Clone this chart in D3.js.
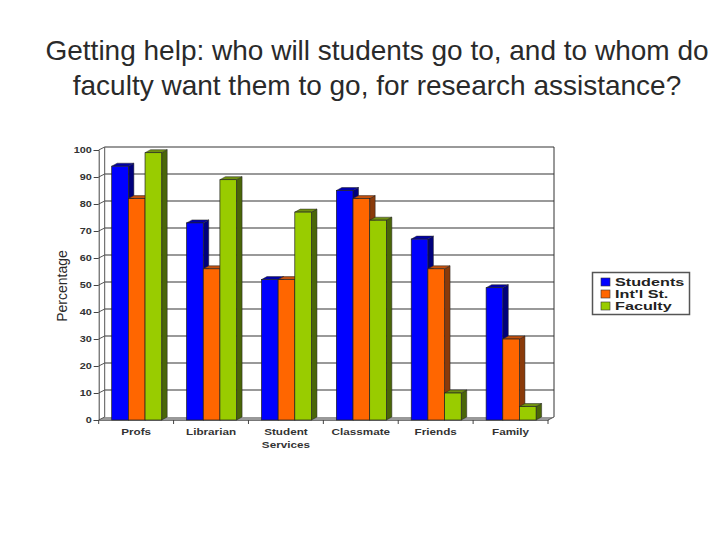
<!DOCTYPE html>
<html>
<head>
<meta charset="utf-8">
<script src="https://cdn.jsdelivr.net/npm/d3@7"></script>
<style>
  html, body { margin: 0; padding: 0; background: #fff; }
  svg { display: block; }
  text { font-family: "Liberation Sans", Arial, sans-serif; }
</style>
</head>
<body>
<div id="chart"></div>
<script>
const categories = ['Profs', 'Librarian', 'Student Services', 'Classmate', 'Friends', 'Family'];
const seriesNames = ['Students', "Int'l St.", 'Faculty'];
const students = [94, 73, 52, 85, 67, 49];
const intlStudents = [82, 56, 52, 82, 56, 30];
const faculty = [99, 89, 77, 74, 10, 5];
const yTicks = [0, 10, 20, 30, 40, 50, 60, 70, 80, 90, 100];
const titleLines = ['Getting help: who will students go to, and to whom do', 'faculty want them to go, for research assistance?'];

const seriesValues = [students, intlStudents, faculty];
const frontColors = ['#0000ff', '#ff6600', '#99cc00'];
const sideColors = ['#00007c', '#8a3a0a', '#4a6608'];
const topColors = ['#0000a8', '#c4500e', '#6f9010'];

const width = 720, height = 540;
const depthX = 6, depthY = 3;
const barDepthX = 5.5;

const svg = d3.select('#chart').append('svg')
  .attr('width', width)
  .attr('height', height);

// Titulo
svg.append('g').selectAll('text')
  .data(titleLines)
  .enter()
  .append('text')
  .attr('x', 377)
  .attr('y', (d, i) => 60 + i * 35)
  .attr('text-anchor', 'middle')
  .attr('font-size', 28)
  .attr('fill', '#2a2a2a')
  .text(d => d);

const x = d3.scaleBand()
  .domain(categories)
  .range([98.7, 548]);

const x1 = d3.scaleBand()
  .domain(d3.range(seriesNames.length))
  .range([13, 63]);

const y = d3.scaleLinear()
  .domain([0, 100])
  .range([420, 150]);

const xLeft = x.range()[0], xRight = x.range()[1];

// Pared del fondo y suelo
svg.append('polygon')
  .attr('points', [[xLeft, y(0)], [xLeft + depthX, y(0) - depthY], [xRight + depthX, y(0) - depthY], [xRight, y(0)]].join(' '))
  .attr('fill', '#999');

svg.append('g').selectAll('line')
  .data(yTicks.slice(1))
  .enter()
  .append('line')
  .attr('x1', xLeft + depthX)
  .attr('x2', xRight + depthX)
  .attr('y1', d => y(d) - depthY)
  .attr('y2', d => y(d) - depthY)
  .attr('stroke', '#777')
  .attr('stroke-width', 1.3);

svg.append('g').selectAll('line')
  .data(yTicks)
  .enter()
  .append('line')
  .attr('x1', xLeft)
  .attr('x2', xLeft + depthX)
  .attr('y1', d => y(d))
  .attr('y2', d => y(d) - depthY)
  .attr('stroke', '#555');

svg.append('line')
  .attr('x1', xLeft + depthX).attr('x2', xLeft + depthX)
  .attr('y1', y(0) - depthY).attr('y2', y(100) - depthY)
  .attr('stroke', '#555');

svg.append('line')
  .attr('x1', xRight + depthX).attr('x2', xRight + depthX)
  .attr('y1', y(0) - depthY).attr('y2', y(100) - depthY)
  .attr('stroke', '#333');

svg.append('line')
  .attr('x1', xRight).attr('x2', xRight + depthX)
  .attr('y1', y(0)).attr('y2', y(0) - depthY)
  .attr('stroke', '#555');

// Ejes
const yAxis = svg.append('g')
  .attr('transform', `translate(${xLeft},0)`)
  .call(d3.axisLeft(y).tickValues(yTicks).tickSize(5).tickPadding(2));
yAxis.select('.domain').attr('stroke', '#444');
yAxis.selectAll('.tick line').attr('stroke', '#444');
yAxis.selectAll('.tick text')
  .attr('x', -5)
  .attr('font-size', 8.5)
  .attr('font-family', '"Liberation Sans", sans-serif')
  .attr('font-weight', 'bold')
  .attr('fill', '#333')
  .attr('transform', 'translate(-0.5,0) scale(1.28,1)');

const xAxis = svg.append('g')
  .attr('transform', `translate(0,${y(0)})`)
  .call(d3.axisBottom(x).tickSize(0).tickPadding(8));
xAxis.select('.domain').attr('stroke', '#777');
xAxis.selectAll('.tick text').remove();

svg.append('g').selectAll('line')
  .data(categories.map(c => x(c)).concat(xRight))
  .enter()
  .append('line')
  .attr('x1', d => d)
  .attr('x2', d => d)
  .attr('y1', y(0))
  .attr('y2', y(0) + 4)
  .attr('stroke', '#444');

const catLabels = svg.append('g').selectAll('text')
  .data(categories)
  .enter()
  .append('text')
  .attr('transform', d => `translate(${x(d) + x.bandwidth() / 2},435) scale(1.33,1)`)
  .attr('text-anchor', 'middle')
  .attr('font-size', 8.8)
  .attr('font-weight', 'bold')
  .attr('fill', '#333');

catLabels.each(function(d) {
  const words = d.split(' ');
  d3.select(this).selectAll('tspan')
    .data(words)
    .enter()
    .append('tspan')
    .attr('x', 0)
    .attr('dy', (w, i) => i ? 13 : 0)
    .text(w => w);
});

// Barras en 3D
const groups = svg.append('g').selectAll('g')
  .data(categories)
  .enter()
  .append('g')
  .attr('transform', d => `translate(${x(d)},0)`);

groups.each(function(cat, ci) {
  const g = d3.select(this);
  seriesValues.forEach((vals, si) => {
    const x0 = x1(si), x2 = x0 + x1.bandwidth();
    const top = y(vals[ci]), base = y(0);

    g.append('polygon')
      .attr('points', [[x2, top], [x2 + barDepthX, top - depthY], [x2 + barDepthX, base - depthY], [x2, base]].join(' '))
      .attr('fill', sideColors[si])
      .attr('stroke', '#222')
      .attr('stroke-width', 0.5);

    g.append('polygon')
      .attr('points', [[x0, top], [x0 + barDepthX, top - depthY], [x2 + barDepthX, top - depthY], [x2, top]].join(' '))
      .attr('fill', topColors[si])
      .attr('stroke', '#222')
      .attr('stroke-width', 0.5);

    g.append('rect')
      .attr('x', x0)
      .attr('y', top)
      .attr('width', x1.bandwidth())
      .attr('height', base - top)
      .attr('fill', frontColors[si])
      .attr('stroke', '#222')
      .attr('stroke-width', 0.7);
  });
});

// Titulo del eje Y
svg.append('text')
  .attr('transform', 'translate(67,286) rotate(-90)')
  .attr('text-anchor', 'middle')
  .attr('font-size', 14)
  .attr('fill', '#2a2a2a')
  .text('Percentage');

// Leyenda
const legend = svg.append('g');

legend.append('rect')
  .attr('x', 592.5)
  .attr('y', 272.5)
  .attr('width', 97)
  .attr('height', 42)
  .attr('fill', '#fff')
  .attr('stroke', '#555')
  .attr('stroke-width', 1.5);

const legendRow = d3.scalePoint()
  .domain(seriesNames)
  .range([282, 306]);

const legendItems = legend.selectAll('.item')
  .data(seriesNames)
  .enter()
  .append('g')
  .attr('class', 'item')
  .attr('transform', d => `translate(601,${legendRow(d)})`);

legendItems.append('rect')
  .attr('y', -4)
  .attr('width', 9)
  .attr('height', 8)
  .attr('fill', (d, i) => frontColors[i])
  .attr('stroke', '#333')
  .attr('stroke-width', 0.6);

legendItems.append('text')
  .attr('transform', 'translate(14,4) scale(1.56,1)')
  .attr('font-size', 10.4)
  .attr('font-weight', 'bold')
  .attr('fill', '#222')
  .text(d => d);
</script>
</body>
</html>
